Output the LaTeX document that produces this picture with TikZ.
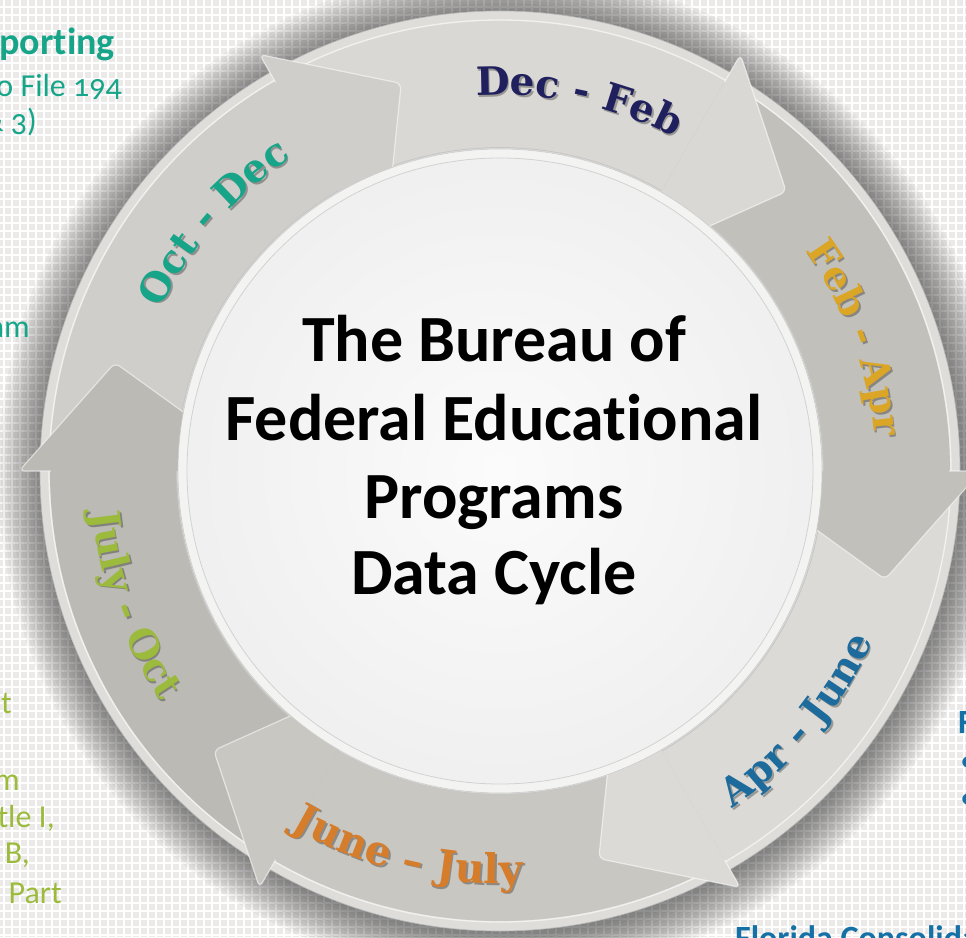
\documentclass[tikz,border=0pt]{standalone}
\usepackage{fontspec}
\setmainfont{Carlito}[Ligatures=NoCommon]
\newfontfamily\sidefont{Carlito}[Numbers=OldStyle, Ligatures=NoCommon]
\newfontfamily\labelfont{DejaVu Serif}
\usetikzlibrary{decorations.text}
\definecolor{bg}{HTML}{EBEAE9}
\definecolor{rim}{HTML}{DEDDDA}
\definecolor{segA}{HTML}{D9D8D4}
\definecolor{segB}{HTML}{C2C0BB}
\definecolor{segC}{HTML}{DBDAD6}
\definecolor{segD}{HTML}{C9C7C2}
\definecolor{segE}{HTML}{BCBAB5}
\definecolor{segF}{HTML}{CFCECA}
\definecolor{inrim}{HTML}{F3F3F2}
\definecolor{tealc}{HTML}{17A589}
\definecolor{greenc}{HTML}{9CBB3C}
\definecolor{bluec}{HTML}{1570A6}
\definecolor{navyc}{HTML}{20205E}
\definecolor{goldc}{HTML}{DBA626}
\definecolor{orangec}{HTML}{D67D2C}
\definecolor{lblblue}{HTML}{1C6B9C}
\newcommand\segbody[2]{%
  \fill[#2] (#1+60:450) arc[start angle=#1+60, end angle=#1, radius=450]
    -- (#1:323) arc[start angle=#1, end angle=#1+60, radius=323] -- cycle;}
\newcommand\seghead[2]{%
  \fill[#2, rounded corners=6pt] (#1:235) -- (#1:481) -- (#1-15.7:400) -- cycle;
  \draw[white, opacity=.55, line width=1.2pt, rounded corners=6pt]
    (#1:449) -- (#1:481) -- (#1-15.7:400) -- (#1:235);}
\newcommand\arclabel[6]{%
  \begin{scope}[shift={(1.8,-1.8)}, fill opacity=0.3]
  \path[decorate, decoration={text along path, text align=center, text color=black,
     text={|\labelfont\bfseries\fontsize{#5}{#5}\selectfont|#6}}]
     (#1:#3) arc[start angle=#1, end angle=#2, radius=#3];
  \end{scope}
  \path[decorate, decoration={text along path, text align=center, text color=#4,
     text={|\labelfont\bfseries\fontsize{#5}{#5}\selectfont|#6}}]
     (#1:#3) arc[start angle=#1, end angle=#2, radius=#3];}
\tikzset{
  sidereg/.style={font=\sidefont\fontsize{32}{36}\selectfont, inner sep=0pt},
  sidebold/.style={font=\sidefont\bfseries\fontsize{34}{38}\selectfont, inner sep=0pt},
  titletext/.style={font=\bfseries\fontsize{66}{87}\selectfont, inner sep=0pt, anchor=base},
}
\begin{document}
\begin{tikzpicture}[x=1pt,y=1pt]
\useasboundingbox (-500,-466) rectangle (466,471);
% background grid
\fill[bg] (-500,-466) rectangle (466,471);
\draw[white, line width=2pt] (-504,-472) grid[step=8pt] (472,480);
% shadow
\foreach \r in {462,465,...,504} \fill[black, fill opacity=0.036] (2,-3) circle[radius=\r];
% base disk
\fill[rim] (0,0) circle[radius=460];
\draw[gray!55, line width=0.6pt] (0,0) circle[radius=460];
% bodies
\segbody{60}{segA}
\segbody{0}{segB}
\segbody{-60}{segC}
\segbody{-120}{segD}
\segbody{-180}{segE}
\segbody{120}{segF}
\draw[white, opacity=.6, line width=1.3pt] (0,0) circle[radius=451];
\draw[gray!45, line width=0.8pt] (0,0) circle[radius=323.5];
% heads
\seghead{60}{segA}
\seghead{0}{segB}
\seghead{-60}{segC}
\seghead{-120}{segD}
\seghead{-180}{segE}
\seghead{120}{segF}
% inner circle
\fill[inrim] (0,0) circle[radius=322];
\draw[gray!40, line width=0.6pt] (0,0) circle[radius=322];
\shade[inner color=white!97!gray, outer color=white!88!gray] (0,0) circle[radius=313];
\draw[gray!35, line width=0.8pt] (0,0) circle[radius=313];
% month labels
\arclabel{128}{28}{376}{navyc}{39}{Dec - Feb}
\arclabel{70.5}{-29.5}{376}{goldc}{39}{Feb - Apr}
\arclabel{-90}{10}{410}{lblblue}{39}{Apr - June}
\arclabel{-153.6}{-53.6}{413}{orangec}{41}{June – July}
\arclabel{-210}{-110}{410}{greenc}{39}{July - Oct}
\arclabel{189}{89}{376}{tealc}{39}{Oct - Dec}
% title
\node[titletext] (t1) at (-6,109) {The Bureau of};
\node[titletext] (t2) at (-6,31) {Federal Educational};
\node[titletext] (t3) at (-6,-47) {Programs};
\node[titletext] (t4) at (-6,-123) {Data Cycle};
% side texts
\node[sidebold, text=tealc, anchor=base east, font=\sidefont\bfseries\fontsize{38}{40}\selectfont] (s1) at (-385,416) {porting};
\node[sidereg, text=tealc, anchor=base east] (s2) at (-378,374) {o File 194};
\node[sidereg, text=tealc, anchor=base east] (s3) at (-463,339) {\& 3)};
\node[sidereg, text=tealc, anchor=base east] (s4) at (-470,133) {am};
\node[sidereg, text=greenc, anchor=base east] (g1) at (-488,-242) {t};
\node[sidereg, text=greenc, anchor=base east] (g2) at (-480,-319) {m};
\node[sidereg, text=greenc, anchor=base east] (g3) at (-445,-356) {tle I,};
\node[sidereg, text=greenc, anchor=base east] (g4) at (-470,-392) {B,};
\node[sidereg, text=greenc, anchor=base east] (g5) at (-438,-432) {Part};
\node[sidebold, text=bluec, anchor=base west] (r1) at (458,-262) {F};
\node[sidereg, text=bluec, anchor=base west] (r2) at (460,-300) {•};
\node[sidereg, text=bluec, anchor=base west] (r3) at (460,-337) {•};
\node[sidebold, text=bluec, anchor=base west] (b1) at (235,-478) {Florida Consolidated};
\end{tikzpicture}
\end{document}
